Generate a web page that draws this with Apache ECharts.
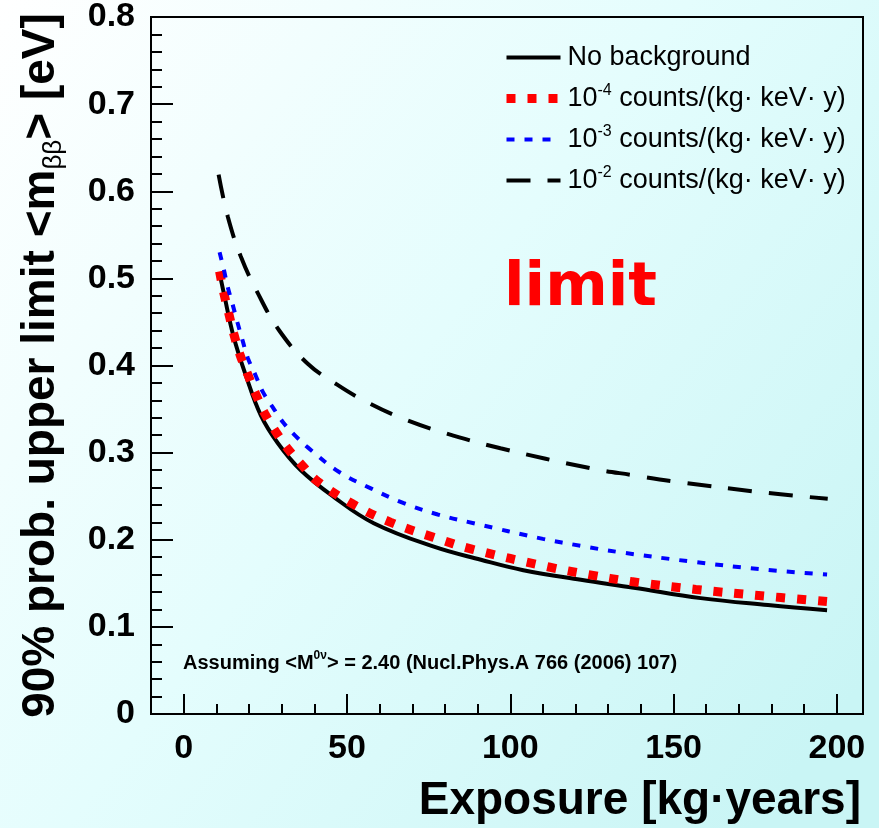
<!DOCTYPE html>
<html>
<head>
<meta charset="utf-8">
<script src="https://cdn.jsdelivr.net/npm/echarts@6/dist/echarts.min.js"></script>
<style>
  html, body { margin: 0; padding: 0; }
  #chart { width: 879px; height: 828px; }
</style>
</head>
<body>
<div id="chart"></div>
<script>
// [exposure kg*y, limit eV]
const noBackground = [
    [11, 0.506], [12.3, 0.483], [15.3, 0.433], [19, 0.389], [23.6, 0.343], [28.8, 0.311],
    [35.8, 0.280], [46, 0.249], [58.2, 0.219], [76.6, 0.192], [91, 0.177], [104, 0.165],
    [121.6, 0.154], [137.8, 0.145], [158.3, 0.133], [178.9, 0.125], [197, 0.119]
]
const bg1e4 = [
    [11, 0.508], [12.25, 0.484], [13.8, 0.460], [15.3, 0.437], [17.2, 0.413], [19.6, 0.390],
    [22.1, 0.367], [24.8, 0.345], [28.2, 0.324], [32.2, 0.303], [36.4, 0.285], [41, 0.267],
    [51.8, 0.241], [63.4, 0.220], [76.3, 0.203], [88.5, 0.189], [111.5, 0.169], [124, 0.160],
    [137, 0.152], [156.8, 0.143], [176, 0.136], [197, 0.129]
]
const bg1e3 = [
    [11, 0.530], [12.25, 0.511], [13.5, 0.490], [15, 0.470], [16.5, 0.449], [18.1, 0.428],
    [19.6, 0.409], [22.1, 0.388], [24.2, 0.370], [27.3, 0.352], [30.6, 0.334], [34.3, 0.319],
    [38, 0.306], [47.5, 0.278], [57.3, 0.259], [67.4, 0.242], [77.8, 0.229], [88.8, 0.219],
    [110, 0.201], [121.6, 0.193], [133, 0.186], [155.3, 0.175], [177, 0.166], [197, 0.160]
]
const bg1e2 = [
    [10.7, 0.619], [13.5, 0.571], [17.5, 0.525], [22.7, 0.483], [29.1, 0.441], [38, 0.402],
    [47, 0.378], [55.1, 0.360], [66.5, 0.340], [78.7, 0.324], [97, 0.305], [124.7, 0.282],
    [137.8, 0.274], [150, 0.267], [175.8, 0.255], [197.2, 0.247]
]
const legendNames = {
    'none': 'No background',
    'e4': '10{sup|-4} counts/(kg· keV· y)',
    'e3': '10{sup|-3} counts/(kg· keV· y)',
    'e2': '10{sup|-2} counts/(kg· keV· y)'
}
const xMajor = [0, 50, 100, 150, 200]
const xMinor = [10, 20, 30, 40, 60, 70, 80, 90, 110, 120, 130, 140, 160, 170, 180, 190]

const chart = echarts.init(document.getElementById('chart'))
const font = 'Liberation Sans, Arial, sans-serif'

function curve(name, data, color, width, type) {
    return {
        name: name,
        type: 'line',
        data: data,
        symbol: 'none',
        smooth: 0.4,
        xAxisIndex: 0,
        color: color,
        lineStyle: {color: color, width: width, type: type, cap: 'butt'}
    }
}

chart.setOption({
    animation: false,
    backgroundColor: new echarts.graphic.LinearGradient(0, 0, 1, 0.8, [
        {offset: 0, color: '#ffffff'},
        {offset: 0.5, color: '#e4fdfd'},
        {offset: 1, color: '#c9f5f5'}
    ]),
    textStyle: {fontFamily: font},
    grid: {
        left: 151, right: 16, top: 17, bottom: 114,
        show: true, borderColor: '#000', borderWidth: 2
    },
    title: [
        {
            text: 'limit',
            left: 499, top: 254,
            textStyle: {fontFamily: 'DejaVu Sans', fontWeight: 'bold', fontSize: 60, color: '#ff0000'}
        },
        {
            text: 'Assuming <M{sup|0ν}> = 2.40 (Nucl.Phys.A 766 (2006) 107)',
            left: 178, top: 645,
            textStyle: {
                fontFamily: font, fontWeight: 'bold', fontSize: 20, color: '#000', lineHeight: 26,
                rich: {sup: {fontFamily: font, fontSize: 12, fontWeight: 'bold', verticalAlign: 'top', lineHeight: 14}}
            }
        }
    ],
    legend: {
        orient: 'vertical',
        left: 502, top: 42,
        padding: 0,
        itemWidth: 54, itemHeight: 14, itemGap: 10,
        data: ['none', 'e4', 'e3', 'e2'],
        formatter: function (name) { return legendNames[name] },
        itemStyle: {opacity: 0},
        lineStyle: {width: 'inherit', type: 'inherit', cap: 'butt'},
        textStyle: {
            fontFamily: font, fontSize: 27, color: '#000', lineHeight: 31, padding: [0, 0, 0, 2],
            rich: {sup: {fontFamily: font, fontSize: 16, verticalAlign: 'top', lineHeight: 16}}
        }
    },
    xAxis: [
        {
            type: 'value', min: -10, max: 208,
            name: 'Exposure [kg·years]',
            nameLocation: 'end', nameGap: -2,
            nameTextStyle: {
                fontFamily: font, fontWeight: 'bold', fontSize: 46, color: '#000',
                align: 'right', verticalAlign: 'top', padding: [64, 0, 0, 0]
            },
            axisLine: {show: true, onZero: false, lineStyle: {color: '#000', width: 2}},
            axisTick: {show: true, inside: true, length: 20, customValues: xMajor, lineStyle: {color: '#000', width: 2}},
            axisLabel: {
                customValues: xMajor, margin: 18,
                fontFamily: font, fontWeight: 'bold', fontSize: 34, color: '#000'
            },
            splitLine: {show: false}
        },
        {
            type: 'value', min: -10, max: 208, position: 'bottom',
            axisLine: {show: false, onZero: false},
            axisTick: {show: true, inside: true, length: 10, customValues: xMinor, lineStyle: {color: '#000', width: 2}},
            axisLabel: {show: false, customValues: xMinor},
            splitLine: {show: false}
        }
    ],
    yAxis: {
        type: 'value', min: 0, max: 0.8, interval: 0.1,
        name: '90% prob. upper limit <m{sub|ββ}> [eV]',
        nameLocation: 'middle', nameGap: 84, nameRotate: 90,
        nameTextStyle: {
            fontFamily: font, fontWeight: 'bold', fontSize: 46, color: '#000', lineHeight: 52,
            rich: {sub: {fontFamily: font, fontWeight: 'normal', fontSize: 26, lineHeight: 24, verticalAlign: 'bottom'}}
        },
        axisLine: {show: true, onZero: false, lineStyle: {color: '#000', width: 2}},
        axisTick: {show: true, inside: true, length: 22, lineStyle: {color: '#000', width: 2}},
        minorTick: {show: true, splitNumber: 5, length: 11, lineStyle: {color: '#000', width: 2}},
        axisLabel: {
            margin: 16, fontFamily: font, fontWeight: 'bold', fontSize: 34, color: '#000',
            formatter: function (v) { return v === 0 ? '0' : v.toFixed(1) }
        },
        splitLine: {show: false}
    },
    series: [
        curve('none', noBackground, '#000000', 4, 'solid'),
        curve('e4', bg1e4, '#ff0000', 9, [9, 12]),
        curve('e3', bg1e3, '#0000ff', 4, [8, 10]),
        curve('e2', bg1e2, '#000000', 4, [24, 17])
    ]
})
</script>
</body>
</html>
